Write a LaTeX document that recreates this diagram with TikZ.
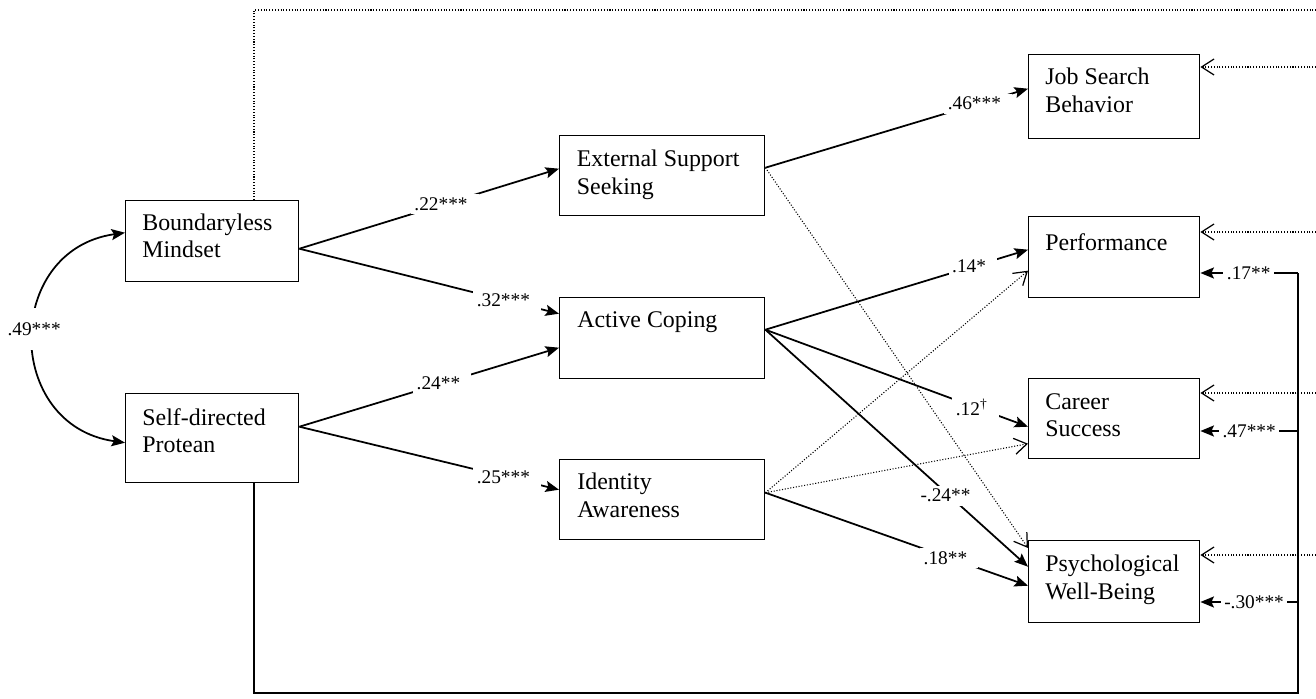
\documentclass[tikz,border=0pt]{standalone}
\usepackage{fontspec}
\setmainfont{Liberation Serif}
\usetikzlibrary{arrows.meta,positioning}

\begin{document}
\begin{tikzpicture}[
	box/.style={draw, line width=0.8pt, anchor=north west, inner sep=0pt},
	boxtxt/.style={anchor=north west, inner sep=0pt, align=left, font=\fontsize{13.6}{15.6}\selectfont},
	effect/.style={line width=1pt, -{Stealth[length=2.7mm,width=2.2mm,inset=0.5mm]}},
	nseffect/.style={densely dotted, line width=0.6pt, -{Straight Barb[length=2.5mm,width=3.2mm,line width=0.7pt]}},
	lbl/.style={fill=white, inner sep=2pt, font=\fontsize{11}{13}\selectfont},
	lblgap/.style={lbl, execute at end node={\hspace{1.5mm}}}
	]
	\useasboundingbox (0,0) rectangle (26.32,-13.98);
	% predictors
	\node[box, minimum width=3.46cm, minimum height=1.62cm] (bm) at (2.5,-4.0) {};
	\node[box, minimum width=3.46cm, minimum height=1.78cm] (sp) at (2.5,-7.86) {};
	% mediators
	\node[box, minimum width=4.1cm, minimum height=1.6cm] (ess) at (11.18,-2.7) {};
	\node[box, minimum width=4.1cm, minimum height=1.62cm] (ac) at (11.18,-5.94) {};
	\node[box, minimum width=4.1cm, minimum height=1.6cm] (ia) at (11.18,-9.18) {};
	% outcomes
	\node[box, minimum width=3.42cm, minimum height=1.68cm] (jsb) at (20.56,-1.08) {};
	\node[box, minimum width=3.42cm, minimum height=1.62cm] (perf) at (20.56,-4.32) {};
	\node[box, minimum width=3.42cm, minimum height=1.6cm] (cs) at (20.56,-7.56) {};
	\node[box, minimum width=3.42cm, minimum height=1.64cm] (pwb) at (20.56,-10.8) {};

	\node[boxtxt] (bm-txt) at ([shift={(0.34,-0.27)}]bm.north west) {Boundaryless\\Mindset};
	\node[boxtxt] (sp-txt) at ([shift={(0.34,-0.3)}]sp.north west) {Self-directed\\Protean};
	\node[boxtxt] (ess-txt) at ([shift={(0.35,-0.3)}]ess.north west) {External Support\\Seeking};
	\node[boxtxt] (ac-txt) at ([shift={(0.36,-0.28)}]ac.north west) {Active Coping};
	\node[boxtxt] (ia-txt) at ([shift={(0.36,-0.28)}]ia.north west) {Identity\\Awareness};
	\node[boxtxt] (jsb-txt) at ([shift={(0.34,-0.28)}]jsb.north west) {Job Search\\Behavior};
	\node[boxtxt] (perf-txt) at ([shift={(0.34,-0.34)}]perf.north west) {Performance};
	\node[boxtxt] (cs-txt) at ([shift={(0.34,-0.3)}]cs.north west) {Career\\Success};
	\node[boxtxt] (pwb-txt) at ([shift={(0.34,-0.3)}]pwb.north west) {Psychological\\Well-Being};

	% control paths
	\coordinate (top-l) at (5.08,-0.2);
	\coordinate (top-r) at (26.32,-0.2);
	\coordinate (bot-l) at (5.08,-13.86);
	\coordinate (bot-r) at (25.96,-13.86);
	\coordinate (bus-perf) at (25.96,-5.46);
	\coordinate (bus-cs) at (25.96,-8.62);
	\coordinate (bus-pwb) at (25.96,-12.04);
	\coordinate (rim-jsb) at (26.32,-1.34);
	\coordinate (rim-perf) at (26.32,-4.64);
	\coordinate (rim-cs) at (26.32,-7.86);
	\coordinate (rim-pwb) at (26.32,-11.1);

	\draw[densely dotted, line width=0.6pt] (top-l |- bm.north) -- (top-l) -- (top-r);
	\draw[nseffect] (rim-jsb) -- (rim-jsb -| jsb.east);
	\draw[nseffect] (rim-perf) -- (rim-perf -| perf.east);
	\draw[nseffect] (rim-cs) -- (rim-cs -| cs.east);
	\draw[nseffect] (rim-pwb) -- (rim-pwb -| pwb.east);

	\draw[line width=1pt] (bot-l |- sp.south) -- (bot-l) -- (bot-r) -- (bus-perf);
	\draw[effect] (bus-perf) -- (bus-perf -| perf.east) node[lbl, pos=0.505] {.17**\hspace{3.3mm}};
	\draw[effect] (bus-cs) -- (bus-cs -| cs.east) node[lbl, pos=0.5] {.47***\hspace{1mm}};
	\draw[effect] (bus-pwb) -- (bus-pwb -| pwb.east) node[lbl, pos=0.45] {-.30***\hspace{1.2mm}};

	% non-significant paths
	\draw[nseffect] ([yshift=1.6mm]ess.east) -- ([yshift=-1.6mm]pwb.north west);
	\draw[nseffect] ([yshift=1.4mm]ia.east) -- ([yshift=-2.7mm]perf.west);
	\draw[nseffect] ([yshift=1.4mm]ia.east) -- ([yshift=-5mm]cs.west);

	% correlation
	\draw[line width=1pt, {Stealth[length=2.7mm,width=2.2mm,inset=0.5mm]}-{Stealth[length=2.7mm,width=2.2mm,inset=0.5mm]}]
		([yshift=1.7mm]bm.west) to[out=188, in=172, looseness=1.5]
		node[lbl, inner ysep=8pt, pos=0.47] {.49***} ([yshift=-0.9mm]sp.west);

	% significant paths
	\draw[effect] ([yshift=-1.5mm]bm.east) -- ([yshift=1.4mm]ess.west) node[lblgap, pos=0.56] {.22***};
	\draw[effect] ([yshift=-1.5mm]bm.east) -- ([yshift=4.9mm]ac.west) node[lblgap, pos=0.8] {.32***};
	\draw[effect] ([yshift=2.3mm]sp.east) -- ([yshift=-1.9mm]ac.west) node[lblgap, pos=0.55] {.24**};
	\draw[effect] ([yshift=2.3mm]sp.east) -- ([yshift=2mm]ia.west) node[lblgap, pos=0.8] {.25***};
	\draw[effect] ([yshift=1.6mm]ess.east) -- ([yshift=1.6mm]jsb.west) node[lblgap, pos=0.81] {.46***};
	\draw[effect] ([yshift=1.7mm]ac.east) -- ([yshift=1.5mm]perf.west) node[lblgap, pos=0.79] {.14*};
	\draw[effect] ([yshift=1.7mm]ac.east) -- ([yshift=-1.6mm]cs.west) node[lblgap, pos=0.8] {.12\textsuperscript{\textdagger}};
	\draw[effect] ([yshift=1.7mm]ac.east) -- ([yshift=3mm]pwb.west) node[lblgap, pos=0.7] {-.24**};
	\draw[effect] ([yshift=1.4mm]ia.east) -- ([yshift=-0.8mm]pwb.west) node[lblgap, pos=0.7] {.18**};
\end{tikzpicture}
\end{document}
